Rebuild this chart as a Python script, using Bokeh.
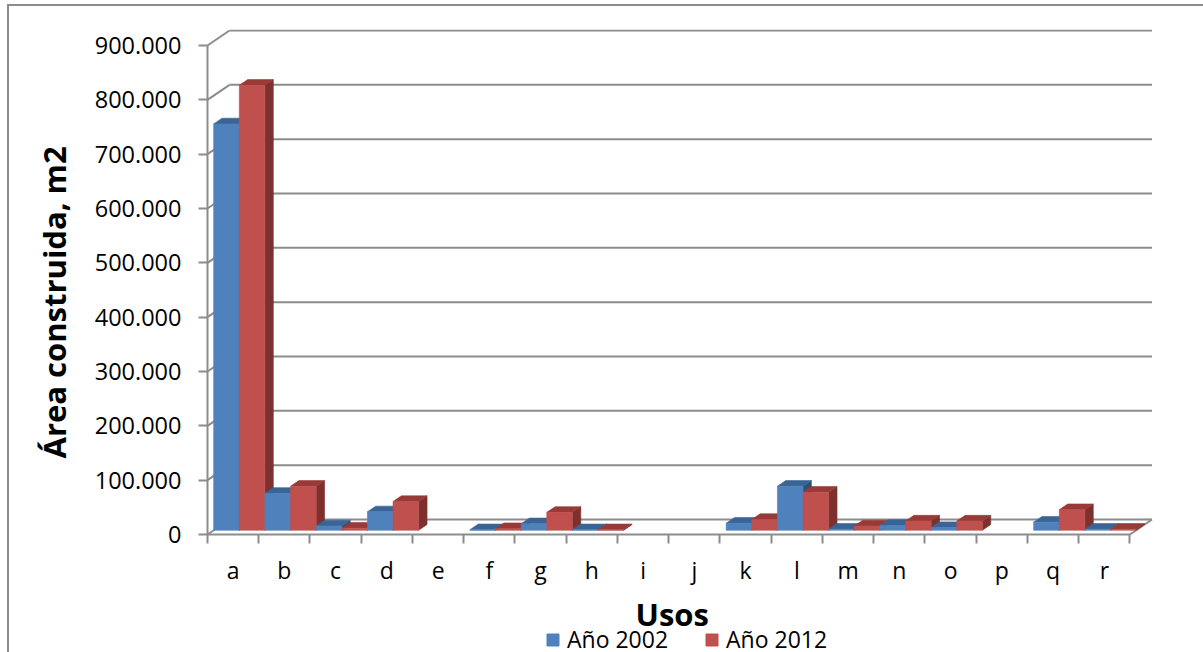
from bokeh.plotting import figure
from bokeh.layouts import column
from bokeh.models import (ColumnDataSource, FixedTicker, Label, Legend, LegendItem,
                          Range1d, Title)
from bokeh.embed import file_html
from bokeh.resources import INLINE

# --- data -------------------------------------------------------------
categories = ["a", "b", "c", "d", "e", "f", "g", "h", "i",
              "j", "k", "l", "m", "n", "o", "p", "q", "r"]
area_2002 = [748000, 68000, 8000, 34000, 0, 1000, 12000, 1000, 0,
             0, 13000, 81000, 2000, 9000, 5000, 0, 15000, 2000]
area_2012 = [819000, 81000, 4000, 53000, 0, 3000, 33000, 1000, 0,
             0, 20000, 70000, 8000, 17000, 17000, 0, 38000, 2000]
series_names = ["Año 2002", "Año 2012"]
y_ticks = [0, 100000, 200000, 300000, 400000, 500000, 600000, 700000, 800000, 900000]
y_tick_labels = ["0", "100.000", "200.000", "300.000", "400.000",
                 "500.000", "600.000", "700.000", "800.000", "900.000"]

# --- styling ------------------------------------------------------------
FRONT = ["#4F81BD", "#C0504D"]
TOP = ["#3B6496", "#983A37"]
SIDE = ["#2F4F78", "#7D302E"]
GRID = "#8C8C8C"
FONT = "Open Sans"

# oblique 3-D depth of the chart box, in data units
DEPTH_X = 0.43          # category units
DEPTH_Y = 27600         # value units
BAR_Z0, BAR_Z1 = 0.28, 0.66   # bar front / back as fraction of the box depth
BAR_W = 0.5

n = len(categories)
x_left, x_right = -0.5, n - 0.5

p = figure(frame_width=950, frame_height=507,
           x_range=Range1d(-0.539, 17.998), y_range=Range1d(-3681, 929448),
           output_backend="svg", toolbar_location=None,
           min_border_left=196, min_border_right=48, min_border_top=23, min_border_bottom=54,
           background_fill_color="white", border_fill_color="white")
p.outline_line_color = None
p.grid.visible = False

# --- walls and floor ----------------------------------------------------
wall = dict(x0=[], y0=[], x1=[], y1=[])
for v in y_ticks:
    # back wall gridline
    wall["x0"].append(x_left + DEPTH_X); wall["y0"].append(v + DEPTH_Y)
    wall["x1"].append(x_right + DEPTH_X); wall["y1"].append(v + DEPTH_Y)
    # side wall diagonal
    wall["x0"].append(x_left); wall["y0"].append(v)
    wall["x1"].append(x_left + DEPTH_X); wall["y1"].append(v + DEPTH_Y)
# front vertical axis line
wall["x0"].append(x_left); wall["y0"].append(0)
wall["x1"].append(x_left); wall["y1"].append(y_ticks[-1])
# floor front edge and right edge
wall["x0"].append(x_left); wall["y0"].append(0)
wall["x1"].append(x_right); wall["y1"].append(0)
wall["x0"].append(x_right); wall["y0"].append(0)
wall["x1"].append(x_right + DEPTH_X); wall["y1"].append(DEPTH_Y)
p.segment("x0", "y0", "x1", "y1", source=ColumnDataSource(wall),
          line_color=GRID, line_width=2)

# --- 3-D columns --------------------------------------------------------
fx, fy = BAR_Z0 * DEPTH_X, BAR_Z0 * DEPTH_Y
bdx, bdy = (BAR_Z1 - BAR_Z0) * DEPTH_X, (BAR_Z1 - BAR_Z0) * DEPTH_Y
faces = {k: dict(xs=[], ys=[], color=[]) for k in ("front", "top", "side")}
first_index = {}
for i in range(n):
    for s, vals in enumerate((area_2002, area_2012)):
        v = vals[i]
        if v <= 0:
            continue
        x0 = i - 0.5 + s * BAR_W + fx
        x1 = x0 + BAR_W
        yb, yt = fy, fy + v
        first_index.setdefault(s, len(faces["front"]["xs"]))
        faces["front"]["xs"].append([x0, x1, x1, x0])
        faces["front"]["ys"].append([yb, yb, yt, yt])
        faces["front"]["color"].append(FRONT[s])
        faces["top"]["xs"].append([x0, x1, x1 + bdx, x0 + bdx])
        faces["top"]["ys"].append([yt, yt, yt + bdy, yt + bdy])
        faces["top"]["color"].append(TOP[s])
        faces["side"]["xs"].append([x1, x1 + bdx, x1 + bdx, x1])
        faces["side"]["ys"].append([yb, yb + bdy, yt + bdy, yt])
        faces["side"]["color"].append(SIDE[s])

sources = {k: ColumnDataSource(faces[k]) for k in faces}
for k in ("side", "top", "front"):
    p.patches("xs", "ys", source=sources[k],
              fill_color="color", line_color="color", line_width=0.6)

# --- axes -----------------------------------------------------------------
ya = p.yaxis[0]
ya.ticker = FixedTicker(ticks=y_ticks)
ya.major_label_overrides = dict(zip(y_ticks, y_tick_labels))
ya.axis_line_color = None
ya.major_tick_line_color = GRID
ya.major_tick_line_width = 2
ya.major_tick_in = 2
ya.major_tick_out = 7
ya.minor_tick_line_color = None
ya.major_label_standoff = 17
ya.major_label_text_font = FONT
ya.major_label_text_font_size = "23.5px"
ya.major_label_text_color = "black"

# vertical axis title, shifted along the axis with an offset
p.add_layout(Title(text="Área construida, m2", align="left", offset=78, standoff=34,
                   text_font=FONT, text_font_style="bold", text_font_size="31px",
                   text_color="black"), "left")

xa = p.xaxis[0]
xa.ticker = FixedTicker(ticks=list(range(n)),
                        minor_ticks=[i - 0.5 for i in range(n + 1)])
xa.major_label_overrides = {i: c for i, c in enumerate(categories)}
xa.axis_line_color = None
xa.major_tick_line_color = None
xa.major_tick_in = 0
xa.major_tick_out = 7
xa.minor_tick_line_color = GRID
xa.minor_tick_line_width = 2
xa.minor_tick_in = 2
xa.minor_tick_out = 7
xa.major_label_standoff = 10
xa.major_label_text_font = FONT
xa.major_label_text_font_size = "23px"
xa.major_label_text_color = "black"

# --- footer strip: horizontal axis title and the series legend ----------------
# (its frame is aligned with the chart frame above, so offsets are from the axis)
foot = figure(width=1194, height=62, x_range=Range1d(0, 1), y_range=Range1d(0, 1),
              x_axis_type=None, y_axis_type=None, min_border=0,
              output_backend="svg", toolbar_location=None,
              background_fill_color="white", border_fill_color="white")
foot.outline_line_color = None
foot.grid.visible = False

foot.add_layout(Label(x=430, y=39, x_units="screen", y_units="screen", text="Usos",
                      text_font=FONT, text_font_style="bold", text_font_size="31px",
                      text_color="black", text_align="left", text_baseline="alphabetic"))

key = foot.patches("xs", "ys", source=sources["front"], fill_color="color",
                   line_color="color", visible=False)
legend = Legend(items=[LegendItem(label=series_names[s], renderers=[key],
                                  index=first_index[s]) for s in (0, 1)],
                orientation="horizontal", location=(340, -3),
                glyph_width=15, glyph_height=15, label_standoff=7, spacing=36,
                padding=0, margin=0, border_line_color=None,
                background_fill_alpha=0, inactive_fill_alpha=0,
                label_text_font=FONT, label_text_font_size="23px",
                label_text_color="black")
foot.add_layout(legend, "center")

root = column(p, foot, spacing=0,
              styles={"margin-left": "7px", "margin-top": "4px",
                      "border-left": "2px solid #8c8c8c",
                      "border-top": "2px solid #8c8c8c"})

open("out.html", "w").write(file_html(root, INLINE))
